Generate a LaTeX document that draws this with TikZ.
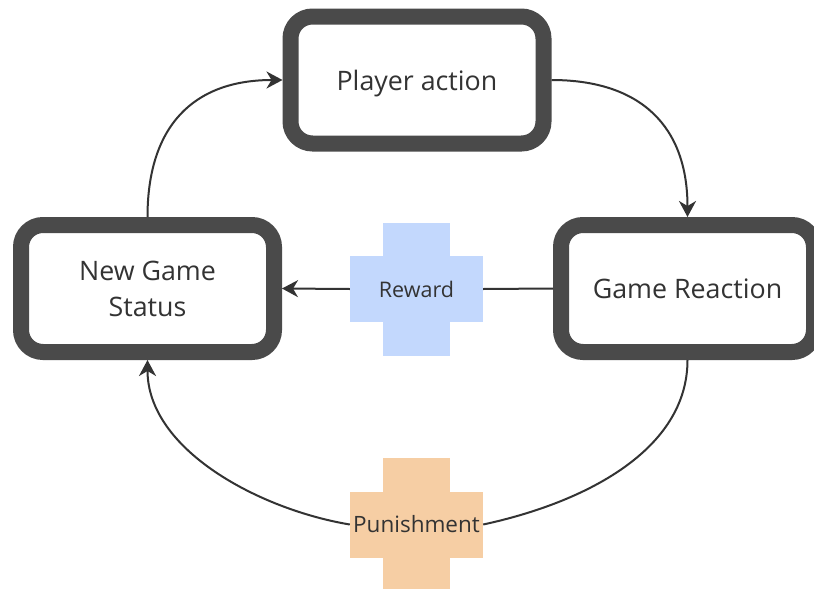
\documentclass[tikz,border=0pt]{standalone}
\usepackage{fontspec}
\setmainfont{Open Sans}
\usetikzlibrary{arrows.meta,backgrounds}

\definecolor{boxline}{HTML}{4A4A4A}
\definecolor{ink}{HTML}{333333}
\definecolor{rewardfill}{HTML}{C3D8FD}
\definecolor{punishfill}{HTML}{F6CEA4}

\tikzset{
  stage/.style={draw=boxline, line width=16pt, rounded corners=22pt, fill=white,
    minimum width=253pt, minimum height=127pt, inner sep=0pt, align=center,
    text=ink, text depth=0pt, font=\fontsize{26.8}{36}\selectfont},
  crossbar/.style={minimum width=133pt, minimum height=66pt, inner sep=0pt, text=ink},
  flow/.style={draw=ink, line width=2pt, -{Stealth[length=16pt,width=17pt,inset=5pt]}},
  plain/.style={draw=ink, line width=2pt},
}

\begin{document}
\begin{tikzpicture}[x=1pt,y=1pt]
  \useasboundingbox (0,0) rectangle (814,-589);
  \clip (0,0) rectangle (814,-589);

  % the three stages of the loop
  \node[stage] (pa)  at (417,-80)      {Player action};
  \node[stage] (ngs) at (147.5,-288.5) {New Game\\Status};
  \node[stage] (gr)  at (687.5,-288.5) {Game Reaction};

  % horizontal bars of the two crosses (they carry the labels)
  \node[crossbar, fill=rewardfill, font=\fontsize{21.5}{25}\selectfont] (reward) at (416.5,-289) {Reward};
  \node[crossbar, fill=punishfill, font=\fontsize{22.5}{27}\selectfont] (pun) at (416.5,-524.5) {Punishment};

  % page background and vertical bars of the crosses
  \begin{scope}[on background layer]
    \fill[white] (0,0) rectangle (814,-589);
    \fill[rewardfill] ([shift={(-33.5pt,-66.5pt)}]reward.center) rectangle ([shift={(33.5pt,66.5pt)}]reward.center);
    \fill[punishfill] ([shift={(-33.5pt,-66.5pt)}]pun.center) rectangle ([shift={(33.5pt,66.5pt)}]pun.center);
  \end{scope}

  % connectors
  \draw[flow]  (ngs.north) .. controls +(0,90) and +(-90,0) .. (pa.west);
  \draw[flow]  (pa.east) .. controls +(90,0) and +(0,90) .. (gr.north);
  \draw[plain] (gr.west) -- (reward.east);
  \draw[flow]  (reward.west) -- (ngs.east);
  \draw[plain] (gr.south) .. controls +(0,-90) and +(102,22) .. (pun.east);
  \draw[flow]  (pun.west) .. controls +(-90,15) and +(0,-90) .. (ngs.south);
\end{tikzpicture}
\end{document}
